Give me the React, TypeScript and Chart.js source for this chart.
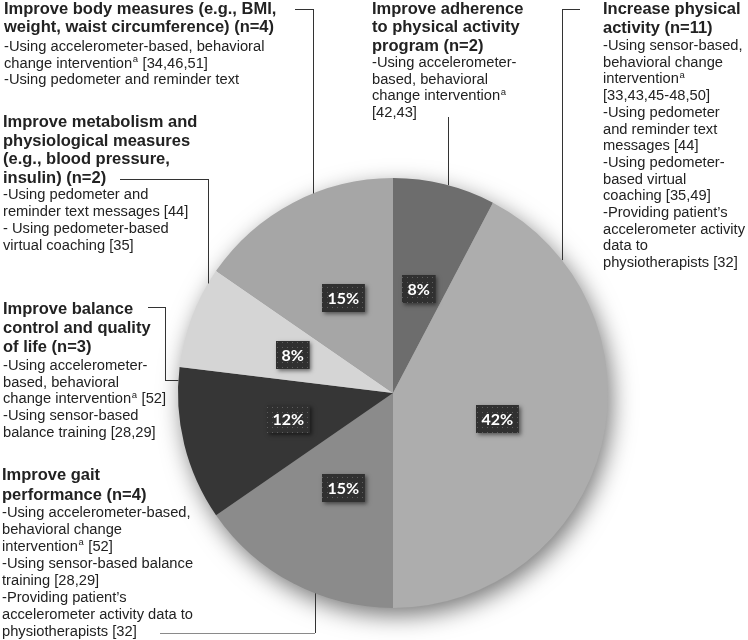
import { useEffect, useRef } from "react";
import { Chart, registerables } from "chart.js";

Chart.register(...registerables);

// ---------- data ----------
const categories = [
  "Improve adherence to physical activity program",
  "Increase physical activity",
  "Improve gait performance",
  "Improve balance control and quality of life",
  "Improve metabolism and physiological measures",
  "Improve body measures",
];
const studyCounts = [2, 11, 4, 3, 2, 4];
const sliceColors = ["#6d6d6d", "#adadad", "#8b8b8b", "#363636", "#d5d5d5", "#a6a6a6"];

const annotationTitles = [
  ["Improve adherence", "to physical activity", "program (n=2)"],
  ["Increase physical", "activity (n=11)"],
  ["Improve gait", "performance (n=4)"],
  ["Improve balance", "control and quality", "of life (n=3)"],
  ["Improve metabolism and", "physiological measures", "(e.g., blood pressure,", "insulin) (n=2)"],
  ["Improve body measures (e.g., BMI,", "weight, waist circumference) (n=4)"],
];
const annotationBodies = [
  ["-Using accelerometer-", "based, behavioral", "change intervention^a", "[42,43]"],
  [
    "-Using sensor-based,",
    "behavioral change",
    "intervention^a",
    "[33,43,45-48,50]",
    "-Using pedometer",
    "and reminder text",
    "messages [44]",
    "-Using pedometer-",
    "based virtual",
    "coaching [35,49]",
    "-Providing patient\u2019s",
    "accelerometer activity",
    "data to",
    "physiotherapists [32]",
  ],
  [
    "-Using accelerometer-based,",
    "behavioral change",
    "intervention^a [52]",
    "-Using sensor-based balance",
    "training [28,29]",
    "-Providing patient\u2019s",
    "accelerometer activity data to",
    "physiotherapists [32]",
  ],
  [
    "-Using accelerometer-",
    "based, behavioral",
    "change intervention^a [52]",
    "-Using sensor-based",
    "balance training [28,29]",
  ],
  ["-Using pedometer and", "reminder text messages [44]", "- Using pedometer-based", "virtual coaching [35]"],
  ["-Using accelerometer-based, behavioral", "change intervention^a [34,46,51]", "-Using pedometer and reminder text"],
];

// ---------- layout (annotation placement) ----------
const blockLayout = [
  { x: 372, y: 13.5, tlh: 18.5, gap: 16.5, blh: 16.7 },
  { x: 603, y: 14, tlh: 19, gap: 17, blh: 16.7 },
  { x: 2, y: 479.5, tlh: 20, gap: 17, blh: 17.1 },
  { x: 3, y: 313.5, tlh: 19, gap: 18.5, blh: 16.7 },
  { x: 3, y: 127, tlh: 18.5, gap: 16, blh: 17 },
  { x: 4, y: 14, tlh: 18.4, gap: 18.5, blh: 16.7 },
];
// connector polylines, last leg goes to the pie edge
const connectorLayout = [
  { pts: [[448, 117]], edge: "top", at: 448, firstColor: "#333" },
  { pts: [[580, 9], [562, 9]], edge: "top", at: 562, firstColor: "#333" },
  { pts: [[160, 633], [315, 633]], edge: "bottom", at: 315, firstColor: "#8a8a8a" },
  { pts: [[148, 307], [165, 307], [165, 380]], edge: "left", at: 380, firstColor: "#333" },
  { pts: [[120, 179], [208, 179]], edge: "top", at: 208, firstColor: "#333" },
  { pts: [[295, 9], [313, 9]], edge: "top", at: 313, firstColor: "#333" },
];

const TEXT_FONT = '"Liberation Sans", Arial, Helvetica, sans-serif';
const TEXT_COLOR = "#222";

export default function App() {
  const canvasRef = useRef<HTMLCanvasElement | null>(null);

  useEffect(() => {
    const canvas = canvasRef.current;
    if (!canvas) return;
    const total = studyCounts.reduce((a, b) => a + b, 0);

    const pc = document.createElement("canvas");
    pc.width = 5;
    pc.height = 5;
    const pctx = pc.getContext("2d")!;
    pctx.fillStyle = "#303030";
    pctx.fillRect(0, 0, 5, 5);
    pctx.fillStyle = "#5e5e5e";
    pctx.fillRect(2, 2, 1, 1);

    const shadowPlugin = {
      id: "pieShadow",
      beforeDatasetsDraw(chart: any) {
        const arc = chart.getDatasetMeta(0).data[0];
        if (!arc) return;
        const { x, y, outerRadius } = arc;
        const ctx = chart.ctx;
        ctx.save();
        ctx.shadowColor = "rgba(0,0,0,0.55)";
        ctx.shadowBlur = 24;
        ctx.shadowOffsetX = 4;
        ctx.shadowOffsetY = 8;
        ctx.beginPath();
        ctx.arc(x, y, outerRadius - 1, 0, Math.PI * 2);
        ctx.fillStyle = "#999";
        ctx.fill();
        ctx.restore();
      },
    };

    const drawLine = (ctx: CanvasRenderingContext2D, x1: number, y1: number, x2: number, y2: number, color: string) => {
      ctx.beginPath();
      ctx.strokeStyle = color;
      ctx.lineWidth = 1;
      const sx = x1 === x2 ? Math.round(x1) + 0.5 : x1;
      const ex = x1 === x2 ? Math.round(x2) + 0.5 : x2;
      const sy = y1 === y2 ? Math.round(y1) + 0.5 : y1;
      const ey = y1 === y2 ? Math.round(y2) + 0.5 : y2;
      ctx.moveTo(sx, sy);
      ctx.lineTo(ex, ey);
      ctx.stroke();
    };

    const drawTextLine = (ctx: CanvasRenderingContext2D, text: string, x: number, y: number) => {
      const parts = text.split("^a");
      let cx = x;
      parts.forEach((p, i) => {
        ctx.font = `14.7px ${TEXT_FONT}`;
        ctx.fillText(p, cx, y);
        cx += ctx.measureText(p).width;
        if (i < parts.length - 1) {
          ctx.font = `9.5px ${TEXT_FONT}`;
          ctx.fillText("a", cx + 0.5, y - 5.5);
          cx += ctx.measureText("a").width + 1;
        }
      });
    };

    const annotationPlugin = {
      id: "annotations",
      afterDatasetsDraw(chart: any) {
        const ctx: CanvasRenderingContext2D = chart.ctx;
        const meta = chart.getDatasetMeta(0);
        const first = meta.data[0];
        const cx = first.x;
        const cy = first.y;
        const R = first.outerRadius;

        // connectors
        connectorLayout.forEach((c) => {
          const pts = c.pts.map((p) => [p[0], p[1]]);
          let end: number[];
          if (c.edge === "top") end = [c.at, cy - Math.sqrt(R * R - (c.at - cx) ** 2)];
          else if (c.edge === "bottom") end = [c.at, cy + Math.sqrt(R * R - (c.at - cx) ** 2)];
          else end = [cx - Math.sqrt(R * R - (c.at - cy) ** 2), c.at];
          const all = [...pts, end];
          for (let i = 0; i < all.length - 1; i++) {
            const color = i === 0 && all.length > 2 ? c.firstColor : "#333";
            drawLine(ctx, all[i][0], all[i][1], all[i + 1][0], all[i + 1][1], color);
          }
        });

        // percentage boxes
        meta.data.forEach((arc: any, i: number) => {
          const mid = (arc.startAngle + arc.endAngle) / 2;
          const r = arc.outerRadius * 0.5;
          const bx = arc.x + r * Math.cos(mid);
          const by = arc.y + r * Math.sin(mid);
          const label = Math.round((studyCounts[i] / total) * 100) + "%";
          ctx.save();
          ctx.font = 'bold 16px Lato, "Open Sans", sans-serif';
          const w = ctx.measureText(label).width + 11;
          const h = 28;
          const x0 = Math.round(bx - w / 2);
          const y0 = Math.round(by - h / 2);
          ctx.shadowColor = "rgba(0,0,0,0.5)";
          ctx.shadowBlur = 4;
          ctx.shadowOffsetX = 2;
          ctx.shadowOffsetY = 2;
          ctx.fillStyle = "#303030";
          ctx.fillRect(x0, y0, w, h);
          ctx.restore();
          ctx.save();
          ctx.fillStyle = ctx.createPattern(pc, "repeat") as CanvasPattern;
          ctx.fillRect(x0, y0, w, h);
          ctx.fillStyle = "#fff";
          ctx.font = 'bold 16px Lato, "Open Sans", sans-serif';
          ctx.textAlign = "center";
          ctx.textBaseline = "middle";
          ctx.fillText(label, x0 + w / 2, y0 + h / 2 + 1);
          ctx.restore();
        });

        // annotation text
        ctx.save();
        ctx.fillStyle = TEXT_COLOR;
        ctx.textAlign = "left";
        ctx.textBaseline = "alphabetic";
        blockLayout.forEach((b, i) => {
          let y = b.y;
          ctx.font = `bold 16.5px ${TEXT_FONT}`;
          annotationTitles[i].forEach((t, j) => {
            if (j > 0) y += b.tlh;
            ctx.font = `bold 16.5px ${TEXT_FONT}`;
            ctx.fillText(t, b.x, y);
          });
          y += b.gap;
          annotationBodies[i].forEach((t, j) => {
            if (j > 0) y += b.blh;
            drawTextLine(ctx, t, b.x, y);
          });
        });
        ctx.restore();
      },
    };

    const chart = new Chart(canvas, {
      type: "pie",
      data: {
        labels: categories,
        datasets: [
          {
            data: studyCounts,
            backgroundColor: sliceColors,
            borderWidth: 0,
          },
        ],
      },
      options: {
        responsive: false,
        animation: false,
        layout: { padding: { left: 178, right: 140, top: 178, bottom: 32 } },
        plugins: {
          legend: { display: false },
          title: { display: false },
          tooltip: { enabled: false },
        },
        events: [],
      },
      plugins: [shadowPlugin, annotationPlugin],
    });
    return () => chart.destroy();
  }, []);

  return (
    <div style={{ position: "absolute", left: 0, top: 0, width: 748, height: 640, background: "#fff" }}>
      <canvas ref={canvasRef} width={748} height={640} />
    </div>
  );
}
